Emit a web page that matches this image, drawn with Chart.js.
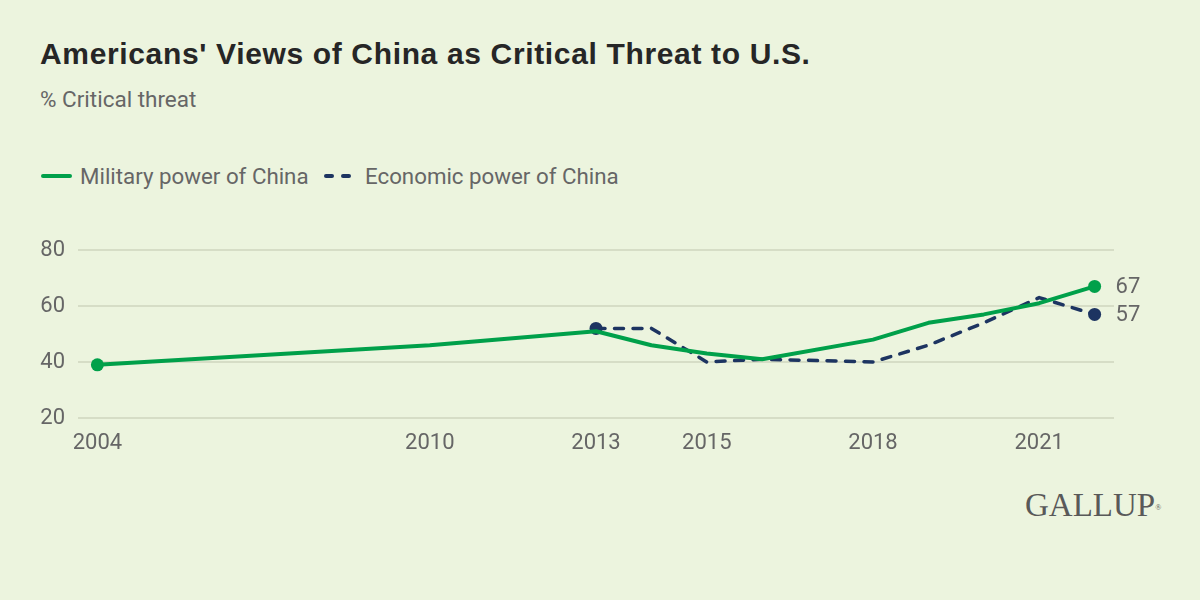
<!DOCTYPE html>
<html>
<head>
<meta charset="utf-8">
<script src="https://cdn.jsdelivr.net/npm/chart.js@4/dist/chart.umd.min.js"></script>
<style>
  html, body { margin: 0; padding: 0; background: #ECF4DE; }
  #wrap { position: relative; width: 1200px; height: 600px; overflow: hidden; background: #ECF4DE; font-family: Roboto, "Noto Sans", sans-serif; }
  #title { position: absolute; left: 40px; top: 39px; font-family: "Liberation Sans", Arial, sans-serif; font-size: 30px; line-height: 30px; font-weight: 700; color: #262626; white-space: nowrap; letter-spacing: 0.65px; }
  #subtitle { position: absolute; left: 40px; top: 88px; font-size: 22.5px; line-height: 22px; color: #666; white-space: nowrap; }
  .leg { position: absolute; top: 165px; font-size: 22.3px; line-height: 22px; color: #666; white-space: nowrap; }
  .sw { position: absolute; top: 174px; height: 4px; }
  #logo { position: absolute; left: 1025px; top: 489px; font-family: "Liberation Serif", "DejaVu Serif", serif; font-size: 33px; line-height: 33px; color: #595959; white-space: nowrap; }
  #logo sup { font-size: 8px; vertical-align: top; position: relative; top: 2px; }
  canvas { position: absolute; left: 0; top: 0; }
</style>
</head>
<body>
<div id="wrap">
  <div id="title">Americans' Views of China as Critical Threat to U.S.</div>
  <div id="subtitle">% Critical threat</div>
  <div class="sw" style="left:41px;width:31px;background:#00A04A;border-radius:2px;"></div>
  <div class="leg" style="left:80px;">Military power of China</div>
  <div class="sw" style="left:324px;width:10px;background:#1D3461;border-radius:2px;"></div>
  <div class="sw" style="left:341px;width:10px;background:#1D3461;border-radius:2px;"></div>
  <div class="leg" style="left:365px;">Economic power of China</div>
  <div id="logo">GALLUP<sup>®</sup></div>
  <canvas id="c" width="1200" height="600"></canvas>
</div>
<script>
const seriesNames = ["Military power of China", "Economic power of China"];
const militaryYears = [2004, 2010, 2013, 2014, 2015, 2016, 2018, 2019, 2020, 2021, 2022];
const militaryValues = [39, 46, 51, 46, 43, 41, 48, 54, 57, 61, 67];
const economicYears = [2013, 2014, 2015, 2016, 2018, 2019, 2020, 2021, 2022];
const economicValues = [52, 52, 40, 41, 40, 46, 54, 63, 57];
const xTickYears = [2004, 2010, 2013, 2015, 2018, 2021];
const yTickValues = [20, 40, 60, 80];

const GREEN = "#00A04A";
const NAVY = "#1D3461";

function toPoints(xs, ys) { return xs.map((x, i) => ({ x: x, y: ys[i] })); }
function endRadius(len) {
  return ctx => (ctx.dataIndex === 0 || ctx.dataIndex === len - 1) ? 6.5 : 0;
}

const endLabels = {
  id: "endLabels",
  afterDatasetsDraw(chart) {
    const ctx = chart.ctx;
    ctx.save();
    ctx.font = "22px Roboto, sans-serif";
    ctx.fillStyle = "#666";
    ctx.textAlign = "left";
    ctx.textBaseline = "middle";
    chart.data.datasets.forEach((ds, di) => {
      const meta = chart.getDatasetMeta(di);
      const last = meta.data[meta.data.length - 1];
      const v = ds.data[ds.data.length - 1].y;
      ctx.fillText(String(v), last.x + 21, last.y + 1);
    });
    ctx.restore();
  }
};

new Chart(document.getElementById("c"), {
  type: "line",
  data: {
    datasets: [
      {
        label: seriesNames[0],
        data: toPoints(militaryYears, militaryValues),
        borderColor: GREEN,
        backgroundColor: GREEN,
        borderWidth: 4,
        borderJoinStyle: "round",
        borderCapStyle: "round",
        pointRadius: endRadius(militaryYears.length),
        pointBorderWidth: 0,
        pointBackgroundColor: GREEN,
        tension: 0
      },
      {
        label: seriesNames[1],
        data: toPoints(economicYears, economicValues),
        borderColor: NAVY,
        backgroundColor: NAVY,
        borderWidth: 3.5,
        borderDash: [9, 9.5],
        borderJoinStyle: "round",
        borderCapStyle: "round",
        pointRadius: endRadius(economicYears.length),
        pointBorderWidth: 0,
        pointBackgroundColor: NAVY,
        tension: 0
      }
    ]
  },
  options: {
    responsive: false,
    devicePixelRatio: 1,
    animation: false,
    layout: { padding: { top: 250, right: 86, bottom: 142, left: 0 } },
    plugins: { legend: { display: false }, tooltip: { enabled: false }, title: { display: false } },
    scales: {
      x: {
        type: "linear",
        min: 2003.65,
        max: 2022.35,
        afterBuildTicks: s => { s.ticks = xTickYears.map(v => ({ value: v })); },
        afterFit: s => { s.height = 40; },
        grid: { display: false, drawTicks: false },
        border: { display: false },
        ticks: {
          callback: v => String(v),
          font: { family: "Roboto", size: 22 },
          color: "#666",
          padding: 12,
          maxRotation: 0,
          autoSkip: false
        }
      },
      y: {
        min: 20,
        max: 80,
        afterBuildTicks: s => { s.ticks = yTickValues.map(v => ({ value: v })); },
        afterFit: s => { s.width = 78; },
        grid: { color: "#D6DDC6", lineWidth: 2, drawTicks: false },
        border: { display: false },
        ticks: {
          font: { family: "Roboto", size: 22 },
          color: "#666",
          padding: 13
        }
      }
    }
  },
  plugins: [endLabels]
});
</script>
</body>
</html>
